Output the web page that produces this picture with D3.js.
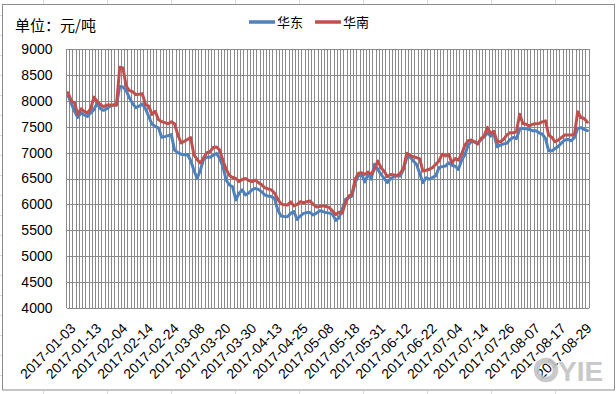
<!DOCTYPE html>
<html>
<head>
<meta charset="utf-8">
<script src="https://cdn.jsdelivr.net/npm/d3@7"></script>
<style>
  html, body { margin: 0; padding: 0; background: #fff; }
  svg { display: block; }
</style>
</head>
<body>
<svg id="chart" width="616" height="394"></svg>
<script>
// ---------------- DATA ----------------
const dates = [
  "01-03","01-04","01-05","01-06","01-09","01-10","01-11","01-12","01-13",
  "01-16","01-17","01-18","01-19","01-20","01-23","01-24","02-04",
  "02-06","02-07","02-08","02-09","02-10","02-11","02-13","02-14",
  "02-15","02-16","02-17","02-20","02-21","02-22","02-23","02-24",
  "02-27","02-28","03-01","03-02","03-03","03-06","03-07","03-08",
  "03-09","03-10","03-13","03-14","03-15","03-16","03-17","03-20",
  "03-21","03-22","03-23","03-24","03-27","03-28","03-29","03-30",
  "03-31","04-05","04-06","04-07","04-10","04-11","04-12","04-13",
  "04-14","04-17","04-18","04-19","04-20","04-21","04-24","04-25",
  "04-26","04-27","04-28","05-02","05-03","05-04","05-05","05-08",
  "05-09","05-10","05-11","05-12","05-15","05-16","05-17","05-18",
  "05-19","05-22","05-23","05-24","05-25","05-26","05-27","05-31",
  "06-01","06-02","06-05","06-06","06-07","06-08","06-09","06-12",
  "06-13","06-14","06-15","06-16","06-19","06-20","06-21","06-22",
  "06-23","06-26","06-27","06-28","06-29","06-30","07-03","07-04",
  "07-05","07-06","07-07","07-10","07-11","07-12","07-13","07-14",
  "07-17","07-18","07-19","07-20","07-21","07-24","07-25","07-26",
  "07-27","07-28","07-31","08-01","08-02","08-03","08-04","08-07",
  "08-08","08-09","08-10","08-11","08-14","08-15","08-16","08-17",
  "08-18","08-21","08-22","08-23","08-24","08-25","08-28","08-29",
  "08-30"
];
const categories = dates.map(d => "2017-" + d);

const huadong = [
  8100,7950,7800,7680,7770,7730,7700,7770,7830,7960,
  7850,7820,7850,7900,7920,7920,8280,8270,8200,8060,
  7950,7870,7900,7940,7850,7700,7550,7510,7480,7300,
  7310,7330,7350,7050,7000,6970,6960,6965,6850,6660,
  6500,6660,6870,6910,6910,6950,6985,6890,6730,6470,
  6375,6340,6085,6215,6280,6180,6220,6280,6310,6290,
  6245,6180,6160,6150,6115,5890,5775,5765,5760,5825,
  5860,5710,5775,5825,5840,5840,5795,5830,5875,5860,
  5840,5830,5805,5690,5740,5905,6095,6130,6160,6420,
  6550,6580,6435,6580,6485,6775,6680,6580,6500,6420,
  6500,6535,6550,6550,6680,6905,6925,6840,6775,6600,
  6420,6515,6485,6520,6550,6710,6730,6740,6805,6755,
  6740,6675,6855,6955,7145,7210,7210,7180,7255,7305,
  7385,7320,7370,7115,7145,7170,7180,7255,7295,7275,
  7450,7470,7460,7450,7425,7425,7385,7360,7275,7035,
  7035,7080,7125,7190,7245,7255,7230,7295,7470,7485,
  7450,7425
];
const huanan = [
  8160,8000,7965,7740,7850,7800,7770,7850,8075,7990,
  7930,7890,7920,7920,7920,7920,8655,8640,8290,8200,
  8180,8125,8130,8140,7930,7900,7740,7800,7640,7600,
  7580,7560,7600,7560,7350,7190,7220,7255,7290,6960,
  6870,6800,6900,7000,7020,7100,7110,7050,6850,6680,
  6560,6520,6500,6440,6480,6500,6460,6440,6470,6420,
  6380,6320,6300,6280,6220,6100,6010,5990,5985,6050,
  5970,6000,6050,6030,6050,6065,6000,5950,5960,5970,
  5960,5935,5870,5805,5850,5830,6030,6160,6195,6485,
  6600,6610,6580,6625,6580,6680,6840,6710,6640,6535,
  6580,6570,6560,6600,6700,6990,6950,6920,6905,6885,
  6645,6660,6680,6710,6775,6840,6970,6935,6970,6805,
  6885,6855,6970,7145,7230,7245,7210,7165,7275,7320,
  7490,7370,7415,7210,7210,7255,7340,7385,7385,7405,
  7745,7565,7550,7515,7550,7560,7565,7595,7615,7340,
  7295,7210,7245,7295,7340,7340,7340,7350,7790,7680,
  7660,7590
];
const seriesNames = ["华东", "华南"];
const seriesColors = ["#4F81BD", "#C0504D"];
const yTicks = [4000,4500,5000,5500,6000,6500,7000,7500,8000,8500,9000];
const labelEvery = 8;
const unitTitle = "单位：元/吨";
const watermark = "YIE";

// ---------------- LAYOUT ----------------
const svg = d3.select("#chart");
const plot = { left: 66.5, right: 589, top: 49.3, bottom: 307.7 };
const gridColor = "#8a8a8a";
const numFont = "'Liberation Sans', Arial, sans-serif";
const cjkFont = "'Noto Sans CJK SC', sans-serif";

// faint spreadsheet cell lines outside the chart frame
const sheet = svg.append("g").attr("stroke", "#dadada").attr("stroke-width", 1);
d3.range(43.5, 616, 64).forEach(x => {
  sheet.append("line").attr("x1", x).attr("x2", x).attr("y1", 0).attr("y2", 4);
  sheet.append("line").attr("x1", x).attr("x2", x).attr("y1", 391).attr("y2", 394);
});
d3.range(15.5, 394, 20).forEach(y => {
  sheet.append("line").attr("x1", 0).attr("x2", 2).attr("y1", y).attr("y2", y);
});

// chart frame
svg.append("rect")
  .attr("x", 2.5).attr("y", 4.5).attr("width", 612).attr("height", 385.5)
  .attr("fill", "#fff").attr("stroke", "#8c8c8c").attr("stroke-width", 1);

const x = d3.scaleBand().domain(categories).range([plot.left, plot.right]).padding(0);
const y = d3.scaleLinear().domain([4000, 9000]).range([plot.bottom, plot.top]);
const bw = x.bandwidth();

// vertical gridlines (category boundaries)
const vg = svg.append("g").attr("stroke", gridColor).attr("stroke-width", 1).attr("shape-rendering", "crispEdges");
categories.forEach(c => {
  const xx = x(c);
  vg.append("line").attr("x1", xx).attr("x2", xx).attr("y1", plot.top).attr("y2", plot.bottom);
});
vg.append("line").attr("x1", plot.right).attr("x2", plot.right).attr("y1", plot.top).attr("y2", plot.bottom);

// horizontal gridlines + y labels via axis
const yAxis = d3.axisLeft(y).tickValues(yTicks).tickFormat(d3.format("d"))
  .tickSize(-(plot.right - plot.left)).tickPadding(14);
const yg = svg.append("g").attr("transform", `translate(${plot.left},0)`).call(yAxis);
yg.select(".domain").remove();
yg.selectAll(".tick line").attr("stroke", gridColor).attr("shape-rendering", "crispEdges");
yg.selectAll(".tick text").attr("fill", "#000").style("font-family", numFont).style("font-size", "14px");

// x labels
const xAxis = d3.axisBottom(x)
  .tickValues(categories.filter((c, i) => i % labelEvery === 0))
  .tickSize(0).tickPadding(0);
const xg = svg.append("g").attr("transform", `translate(0,${plot.bottom})`).call(xAxis);
xg.select(".domain").remove();
xg.selectAll(".tick text")
  .attr("fill", "#000")
  .style("font-family", numFont).style("font-size", "14px")
  .attr("text-anchor", "end")
  .attr("dy", "0.35em")
  .attr("transform", "translate(5,18) rotate(-45)");

// lines
const line = d3.line()
  .x((d, i) => x(categories[i]) + bw / 2)
  .y(d => y(d));
[huadong, huanan].forEach((s, k) => {
  svg.append("path").datum(s)
    .attr("fill", "none").attr("stroke", seriesColors[k])
    .attr("stroke-width", 3).attr("stroke-linejoin", "round").attr("stroke-linecap", "round")
    .attr("d", line);
});

// title
svg.append("text").attr("x", 15).attr("y", 31)
  .style("font-family", cjkFont).style("font-size", "15px").attr("fill", "#000")
  .text(unitTitle);

// legend
const legendItems = [{ x: 249, tx: 277 }, { x: 315, tx: 343 }];
legendItems.forEach((p, k) => {
  svg.append("line").attr("x1", p.x).attr("x2", p.x + 26).attr("y1", 22).attr("y2", 22)
    .attr("stroke", seriesColors[k]).attr("stroke-width", 3.5);
  svg.append("text").attr("x", p.tx).attr("y", 26.5)
    .style("font-family", cjkFont).style("font-size", "13px").attr("fill", "#000")
    .text(seriesNames[k]);
});

// watermark logo
const wm = svg.append("g").attr("opacity", 0.9);
wm.append("circle").attr("cx", 546).attr("cy", 370).attr("r", 9.5)
  .attr("fill", "none").attr("stroke", "#c4c4c4").attr("stroke-width", 5.5);
wm.append("text").attr("x", 558).attr("y", 381)
  .style("font-family", numFont).style("font-size", "28px").style("font-weight", "bold")
  .attr("fill", "#c4c4c4").text(watermark);
</script>
</body>
</html>
